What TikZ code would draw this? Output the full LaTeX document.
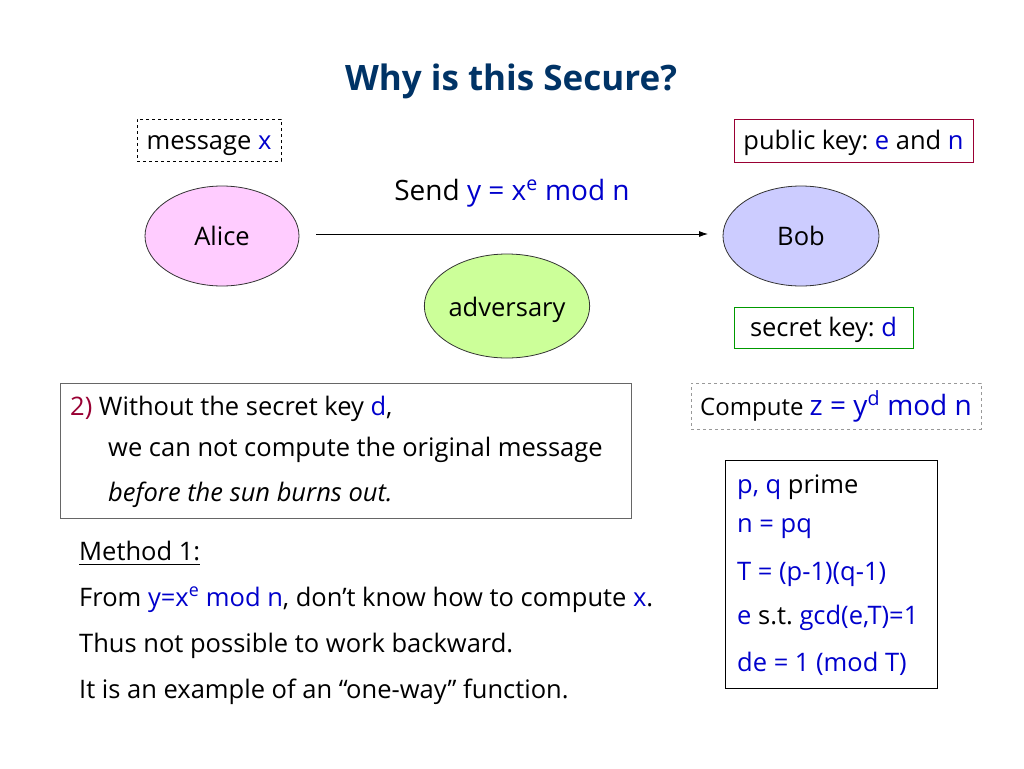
\documentclass[tikz,border=0pt]{standalone}
\usepackage{fontspec}
\setmainfont{Open Sans}
\usetikzlibrary{shapes.geometric,arrows.meta}
\definecolor{tblue}{RGB}{0,0,204}
\definecolor{ttitle}{RGB}{0,51,102}
\definecolor{tred}{RGB}{153,0,51}
\definecolor{tgreen}{RGB}{0,153,0}
\definecolor{tpink}{RGB}{255,204,255}
\definecolor{tlav}{RGB}{204,204,255}
\definecolor{tlime}{RGB}{204,255,153}
\newcommand{\bl}[1]{\textcolor{tblue}{#1}}
\tikzset{
  body/.style={font=\frenchspacing\fontsize{25.5}{30}\selectfont, inner sep=0pt},
  txt/.style={body, anchor=base west},
  party/.style={ellipse, draw=black!80, line width=0.8pt, body},
  keybox/.style={draw, line width=0.8pt, body, inner sep=0pt, text height=24pt, text depth=6pt},
}
\begin{document}
\begin{tikzpicture}[x=1pt,y=-1pt]
\useasboundingbox (0,0) rectangle (1024,768);
\fill[white] (0,0) rectangle (1024,768);
% title
\node[font=\bfseries\fontsize{35}{40}\selectfont, text=ttitle, anchor=base] (title) at (511,90) {Why is this Secure?};
% top boxes
\node[keybox, dashed, minimum width=144pt, minimum height=42pt] (msg) at (209,140) {message \bl{x}};
\node[keybox, draw=tred, minimum width=239pt, minimum height=43pt] (pub) at (853.5,140.5) {public key: \bl{e} and \bl{n}};
% parties
\node[party, fill=tpink, minimum width=154pt, minimum height=100pt] (alice) at (222,236) {Alice};
\node[party, fill=tlav, minimum width=156pt, minimum height=100pt] (bob) at (801,236) {Bob};
\node[party, fill=tlime, minimum width=146pt, minimum height=104pt, text height=24pt, text depth=4pt] (adv) at (507,306) {adversary};
\coordinate (a1) at (316,234);
\coordinate (b1) at (708,234);
\draw[-{Latex[length=9pt,width=6pt]}, line width=0.8pt] (a1) -- (b1);
\node[body, font=\frenchspacing\fontsize{28}{32}\selectfont, anchor=base] (send) at (512,200) {Send \bl{y = x\textsuperscript{e} mod n}};
% secret key
\node[keybox, draw=tgreen, minimum width=179pt, minimum height=41pt] (sec) at (823.5,327.5) {secret key: \bl{d}};
% compute
\node[keybox, draw=black!40, dashed, minimum width=290pt, minimum height=46pt] (comp) at (836,406) {\fontsize{24}{28}\selectfont Compute \bl{\fontsize{28}{32}\selectfont z = y\textsuperscript{d} mod n}};
% box 2
\node[draw=black!60, line width=0.8pt, minimum width=571pt, minimum height=135pt, inner sep=0pt] (box2) at (345.5,450.5) {};
\node[txt] (l1) at (70,415) {\textcolor{tred}{2)} Without the secret key \bl{d},};
\node[txt] (l2) at (108,456) {we can not compute the original message};
\node[txt] (l3) at (108,501) {\itshape before the sun burns out.};
% method
\node[txt] (m0) at (79,560) {Method 1:};
\draw[line width=0.8pt] (m0.south west) ++(0,4) coordinate (u1) -- (u1 -| m0.east);
\node[txt] (m1) at (79,606) {From \bl{y=x\textsuperscript{e} mod n}, don't know how to compute \bl{x}.};
\node[txt] (m2) at (79,652) {Thus not possible to work backward.};
\node[txt] (m3) at (79,698) {It is an example of an “one-way” function.};
% right box
\node[draw=black, line width=0.8pt, minimum width=212pt, minimum height=228pt, inner sep=0pt] (rbox) at (831,574) {};
\node[txt] (r1) at (737,493) {\bl{p, q} prime};
\node[txt] (r2) at (737,532) {\bl{n = pq}};
\node[txt] (r3) at (737,580) {\bl{T = (p-1)(q-1)}};
\node[txt] (r4) at (737,624) {\bl{e} s.t. \bl{gcd(e,T)=1}};
\node[txt] (r5) at (737,671) {\bl{de = 1 (mod T)}};
\end{tikzpicture}
\end{document}
